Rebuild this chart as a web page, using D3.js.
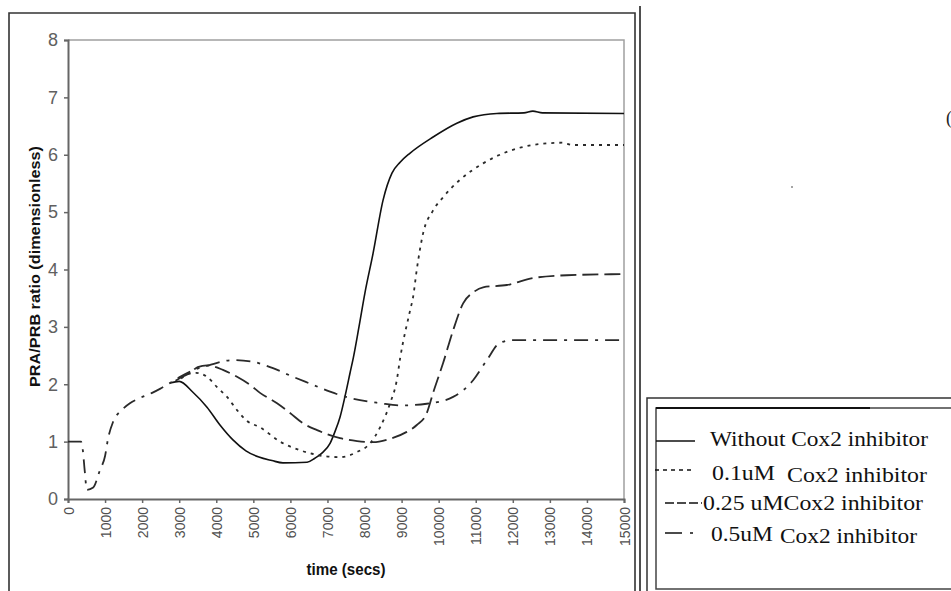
<!DOCTYPE html>
<html>
<head>
<meta charset="utf-8">
<script src="https://cdn.jsdelivr.net/npm/d3@7"></script>
<style>
  html, body { margin: 0; padding: 0; background: #fff; }
  svg { display: block; }
</style>
</head>
<body>
<svg id="chart" width="951" height="591"></svg>
<script>
// PRA/PRB ratio over time for several Cox2 inhibitor doses
const xTicks = [0, 1000, 2000, 3000, 4000, 5000, 6000, 7000, 8000, 9000, 10000, 11000, 12000, 13000, 14000, 15000];
const yTicks = [0, 1, 2, 3, 4, 5, 6, 7, 8];

// common start of the runs (they coincide until ~2800 s)
const tStart = [0, 350, 400, 450, 510, 680, 860, 1000, 1080, 1220, 1450, 1670, 1940, 2270, 2480, 2750];
const vStart = [1.0, 1.0, 0.85, 0.5, 0.16, 0.2, 0.5, 0.75, 1.05, 1.35, 1.55, 1.67, 1.76, 1.85, 1.92, 2.02];

// Without Cox2 inhibitor
const tWithout = [2750, 3000, 3370, 3750, 4100, 4450, 4800, 5150, 5500, 5800, 6450, 6660, 6850, 7070, 7200, 7340, 7470, 7610, 7700, 7850, 8010, 8230, 8500, 8740, 8960, 9230, 9850, 10490, 10930, 11570, 12300, 12540, 12800, 15000];
const vWithout = [2.02, 2.05, 1.86, 1.6, 1.29, 1.03, 0.84, 0.73, 0.67, 0.63, 0.64, 0.71, 0.8, 0.97, 1.17, 1.43, 1.78, 2.2, 2.47, 3.0, 3.59, 4.28, 5.21, 5.68, 5.87, 6.03, 6.31, 6.55, 6.66, 6.72, 6.73, 6.76, 6.73, 6.72];

// 0.1uM Cox2 inhibitor
const tLow = [3050, 3250, 3450, 3750, 4020, 4290, 4560, 4830, 5180, 5720, 6260, 6880, 7340, 7800, 8150, 8420, 8690, 8870, 8960, 9230, 9310, 9410, 9580, 9850, 10120, 10570, 11200, 11840, 12540, 13350, 13600, 15000];
const vLow = [2.1, 2.18, 2.2, 2.13, 1.95, 1.78, 1.55, 1.36, 1.25, 1.0, 0.85, 0.75, 0.73, 0.82, 0.97, 1.25, 1.67, 2.07, 2.45, 3.29, 3.52, 4.0, 4.63, 5.03, 5.26, 5.56, 5.85, 6.05, 6.17, 6.21, 6.17, 6.17];

// 0.25 uM Cox2 inhibitor
const tMid = [2900, 3000, 3300, 3500, 3750, 4180, 4560, 4910, 5180, 5640, 5990, 6340, 6720, 7340, 7800, 8230, 8690, 9140, 9410, 9680, 9850, 10120, 10390, 10660, 10930, 11200, 11840, 12540, 13460, 15000];
const vMid = [2.06, 2.1, 2.2, 2.3, 2.33, 2.25, 2.13, 1.99, 1.85, 1.67, 1.5, 1.32, 1.2, 1.06, 1.01, 0.99, 1.05, 1.17, 1.29, 1.5, 1.85, 2.37, 2.94, 3.41, 3.6, 3.69, 3.73, 3.85, 3.9, 3.92];

// 0.5uM Cox2 inhibitor
const tHigh = [3000, 3400, 3800, 4450, 5000, 5530, 6070, 6610, 7070, 7610, 8420, 8960, 9680, 10390, 10930, 11300, 11650, 12000, 15000];
const vHigh = [2.12, 2.25, 2.33, 2.42, 2.39, 2.28, 2.13, 1.99, 1.87, 1.76, 1.67, 1.63, 1.66, 1.78, 2.07, 2.42, 2.72, 2.77, 2.77];

const seriesNames = ["Without Cox2 inhibitor", "0.1uM Cox2 inhibitor", "0.25 uM Cox2 inhibitor", "0.5uM Cox2 inhibitor"];
const seriesT = [tWithout, tLow, tMid, tHigh];
const seriesV = [vWithout, vLow, vMid, vHigh];
const seriesWithStart = [false, false, false, true];
const seriesDash = [null, "3,5", "16,6", "14,7,3,7"];

const svg = d3.select("#chart");

// outer frame of the figure
const frame = svg.append("g").attr("fill", "none");
frame.append("path").attr("d", "M9,591 V13 H635 V591").attr("stroke", "#333").attr("stroke-width", 1.6);
frame.append("line").attr("x1", 640).attr("x2", 640).attr("y1", 6).attr("y2", 591).attr("stroke", "#222").attr("stroke-width", 1.6);

// plot area
const M = { left: 68, right: 624, top: 40, bottom: 499 };
const x = d3.scaleLinear().domain([0, 15000]).range([M.left, M.right]);
const y = d3.scaleLinear().domain([0, 8]).range([M.bottom, M.top]);

svg.append("path")
  .attr("d", `M${M.left},${M.top} H${M.right} V${M.bottom}`)
  .attr("fill", "none").attr("stroke", "#a0a0a0").attr("stroke-width", 1.5);

// y axis
const yAxis = svg.append("g").attr("transform", `translate(${M.left},0)`)
  .call(d3.axisLeft(y).tickValues(yTicks).tickSize(4).tickPadding(6).tickFormat(d3.format("d")));
yAxis.select(".domain").attr("stroke", "#666").attr("stroke-width", 2);
yAxis.selectAll(".tick line").attr("stroke", "#666").attr("stroke-width", 1.5);
yAxis.selectAll(".tick text")
  .attr("fill", "#606060").attr("font-family", "Liberation Sans, Arial, sans-serif").attr("font-size", 18);

// x axis with vertical labels
const xAxis = svg.append("g").attr("transform", `translate(0,${M.bottom})`)
  .call(d3.axisBottom(x).tickValues(xTicks).tickSize(4).tickFormat(d3.format("d")));
xAxis.select(".domain").attr("stroke", "#666").attr("stroke-width", 2);
xAxis.selectAll(".tick line").attr("stroke", "#666").attr("stroke-width", 1.5);
xAxis.selectAll(".tick text")
  .attr("fill", "#505050").attr("font-family", "Liberation Sans, Arial, sans-serif").attr("font-size", 14)
  .attr("text-anchor", "end").attr("transform", "rotate(-90)")
  .attr("x", -8).attr("y", 0).attr("dy", "0.36em");

// axis titles
svg.append("text")
  .attr("transform", `translate(40,${(M.top + M.bottom) / 2 - 3}) rotate(-90)`)
  .attr("text-anchor", "middle")
  .attr("font-family", "Liberation Sans, Arial, sans-serif").attr("font-weight", "bold").attr("font-size", 14)
  .attr("textLength", 241).attr("lengthAdjust", "spacingAndGlyphs")
  .attr("fill", "#111")
  .text("PRA/PRB ratio (dimensionless)");

svg.append("text")
  .attr("x", 346).attr("y", 575)
  .attr("text-anchor", "middle")
  .attr("font-family", "Liberation Sans, Arial, sans-serif").attr("font-weight", "bold").attr("font-size", 16)
  .attr("textLength", 79).attr("lengthAdjust", "spacingAndGlyphs")
  .attr("fill", "#111")
  .text("time (secs)");

// curves
const line = d3.line().x(d => x(d[0])).y(d => y(d[1])).curve(d3.curveMonotoneX);
seriesNames.forEach((name, i) => {
  const head = seriesWithStart[i] ? tStart.map((t, k) => [t, vStart[k]]) : [];
  const pts = head.concat(seriesT[i].map((t, k) => [t, seriesV[i][k]]));
  svg.append("path")
    .datum(pts)
    .attr("class", "series")
    .attr("d", line)
    .attr("fill", "none")
    .attr("stroke", i === 0 ? "#111" : "#2a2a2a")
    .attr("stroke-width", i === 0 ? 1.6 : 1.8)
    .attr("stroke-dasharray", seriesDash[i]);
});

// legend boxes
const lg = svg.append("g").attr("fill", "none");
lg.append("path").attr("d", "M647,591 V398 H951").attr("stroke", "#333").attr("stroke-width", 1.5);
lg.append("path").attr("d", "M951,408 H656 V589 H951").attr("stroke", "#444").attr("stroke-width", 1.5);
lg.append("line").attr("x1", 656).attr("x2", 870).attr("y1", 408).attr("y2", 408).attr("stroke", "#111").attr("stroke-width", 2.2);

// legend samples
const sampleY = [441, 470, 503, 533];
const sampleX = [[656, 695], [655, 695], [665, 702], [665, 694]];
const sampleDash = [null, "4,4", "9,3", "17,8,3,40"];
sampleY.forEach((sy, i) => {
  svg.append("line")
    .attr("x1", sampleX[i][0]).attr("x2", sampleX[i][1])
    .attr("y1", sy).attr("y2", sy)
    .attr("stroke", "#111").attr("stroke-width", 1.3)
    .attr("stroke-dasharray", sampleDash[i]);
});

const serif = "Liberation Serif, Times New Roman, serif";
const legendText = [
  { s: "Without Cox2 inhibitor", x: 710, y: 446, w: 218 },
  { s: "0.1uM", x: 712, y: 480, w: 63 },
  { s: "Cox2 inhibitor", x: 787, y: 482, w: 140 },
  { s: "0.25 uMCox2 inhibitor", x: 703, y: 510, w: 220 },
  { s: "0.5uM", x: 711, y: 541, w: 62 },
  { s: "Cox2 inhibitor", x: 780, y: 543, w: 137 }
];
svg.selectAll("text.legend").data(legendText).enter().append("text")
  .attr("class", "legend")
  .attr("x", d => d.x).attr("y", d => d.y)
  .attr("font-family", serif).attr("font-size", 20).attr("fill", "#111")
  .attr("textLength", d => d.w).attr("lengthAdjust", "spacingAndGlyphs")
  .text(d => d.s);

// stray marks at the right
svg.append("text").attr("x", 946).attr("y", 124).attr("font-family", serif).attr("font-size", 18).attr("fill", "#222").text("(");
svg.append("circle").attr("cx", 792).attr("cy", 187).attr("r", 0.8).attr("fill", "#333");
</script>
</body>
</html>
